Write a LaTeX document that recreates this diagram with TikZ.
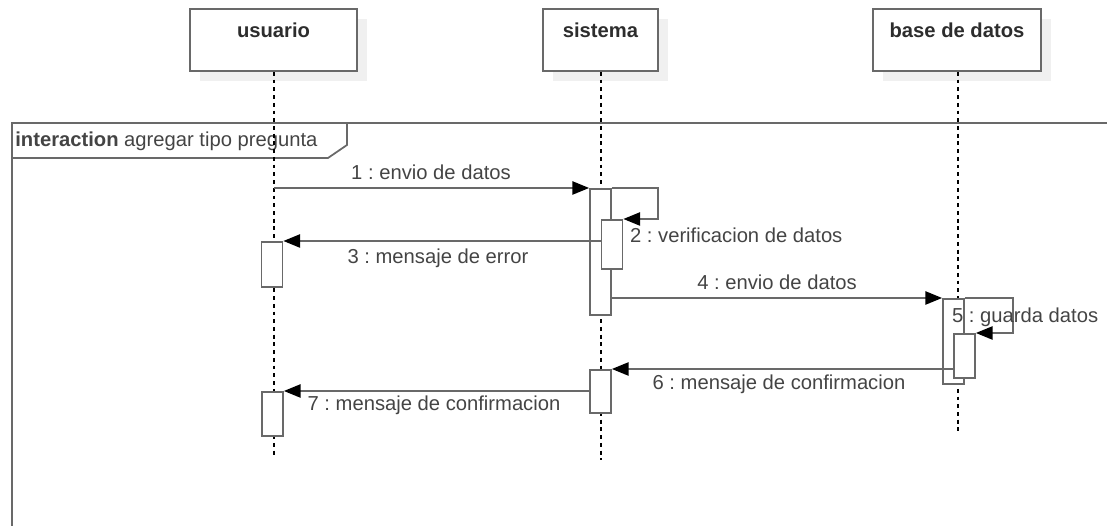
\documentclass[tikz,border=0pt]{standalone}
\usepackage{fontspec}
\setmainfont{Liberation Sans}
\usepackage{xcolor}
\usepackage{tikz}
\usetikzlibrary{arrows.meta}
\usetikzlibrary{calc}
\frenchspacing

\definecolor{linegray}{RGB}{105,105,105}
\definecolor{textgray}{RGB}{68,68,68}
\definecolor{headgray}{RGB}{45,45,45}

\tikzset{
	headbox/.style={draw=linegray,line width=1pt,fill=white,minimum height=1.24cm,inner sep=0pt},
	headshadow/.style={fill=black!6,draw=none,minimum height=1.24cm,inner sep=0pt},
	headlabel/.style={anchor=north,yshift=-5pt,text=headgray,font=\fontsize{11.5}{13}\selectfont\bfseries},
	lifeline/.style={black,line width=0.8pt,dash pattern=on 2.2pt off 2.2pt},
	actbox/.style={draw=linegray,line width=1pt,fill=white,minimum width=0.42cm,inner sep=0pt,anchor=north},
	msg/.style={draw=linegray,line width=1pt,-{Triangle[length=9.5pt,width=7.5pt,color=black]}},
	msglabel/.style={text=textgray,font=\fontsize{11.5}{13}\selectfont,inner sep=1pt}
}

\begin{document}
\begin{tikzpicture}[x=0.02cm,y=-0.02cm]
		\useasboundingbox (0,0) rectangle (1107,526);
		% heads
		\node[headshadow,minimum width=3.34cm] (ush) at (283.5,50) {};
		\node[headshadow,minimum width=2.30cm] (ssh) at (610.5,50) {};
		\node[headshadow,minimum width=3.36cm] (bsh) at (967,50) {};
		\node[headbox,minimum width=3.34cm,label={[headlabel]north:usuario}] (U) at (273.5,40) {};
		\node[headbox,minimum width=2.30cm,label={[headlabel]north:sistema}] (S) at (600.5,40) {};
		\node[headbox,minimum width=3.36cm,label={[headlabel]north:base de datos}] (B) at (957,40) {};
		% frame
		\coordinate (F1) at (12,526);
		\coordinate (F2) at (12,123);
		\coordinate (F3) at (1107,123);
		\coordinate (T1) at (12,158);
		\coordinate (T2) at (328,158);
		\coordinate (T3) at (347,145);
		\coordinate (T4) at (347,123);
		\draw[linegray,line width=1pt] (F1) -- (F2) -- (F3);
		\draw[linegray,line width=1pt] (T1) -- (T2) -- (T3) -- (T4);
		\node[anchor=west,msglabel,inner sep=0pt] (tab) at (15,141) {\textbf{interaction} agregar tipo pregunta};
		% lifelines
		\coordinate (UE) at (274,455);
		\coordinate (SE) at (601,460);
		\coordinate (BE) at (958,432);
		\draw[lifeline] (U.south -| UE) -- (UE);
		\draw[lifeline] (S.south -| SE) -- (SE);
		\draw[lifeline] (B.south -| BE) -- (BE);
		% activations
		\node[actbox,minimum height=2.52cm] (s1) at (600.5,188) {};
		\node[actbox,minimum height=0.98cm] (s2) at (612,219) {};
		\node[actbox,minimum height=0.90cm] (u1) at (272,241) {};
		\node[actbox,minimum height=1.70cm] (b1) at (953.5,298) {};
		\node[actbox,minimum height=0.88cm] (b2) at (964.5,333) {};
		\node[actbox,minimum height=0.86cm] (s3) at (600.5,369) {};
		\node[actbox,minimum height=0.88cm] (u2) at (272.5,391) {};
		% messages
		\coordinate (m1) at (274,188);
		\draw[msg] (m1) -- (s1.north west);
		\draw[msg] (s1.north east) -- ++(46,0) |- (s2.north east);
		\draw[msg] (u1.north east -| s2.west) -- (u1.north east);
		\draw[msg] (b1.north west -| s1.east) -- (b1.north west);
		\draw[msg] (b1.north east) -- ++(48,0) |- (b2.north east);
		\draw[msg] (s3.north east -| b2.west) -- (s3.north east);
		\draw[msg] (u2.north east -| s3.west) -- (u2.north east);
		% labels
		\node[msglabel] (l1) at (431,172) {1 : envio de datos};
		\node[msglabel,anchor=west] (l2) at (628,235) {2 : verificacion de datos};
		\node[msglabel] (l3) at (438,258) {3 : mensaje de error};
		\node[msglabel] (l4) at (777,282) {4 : envio de datos};
		\node[msglabel,anchor=west] (l5) at (950,317) {5 : guarda datos};
		\node[msglabel] (l6) at (779,384) {6 : mensaje de confirmacion};
		\node[msglabel] (l7) at (434,405) {7 : mensaje de confirmacion};
\end{tikzpicture}
\end{document}
